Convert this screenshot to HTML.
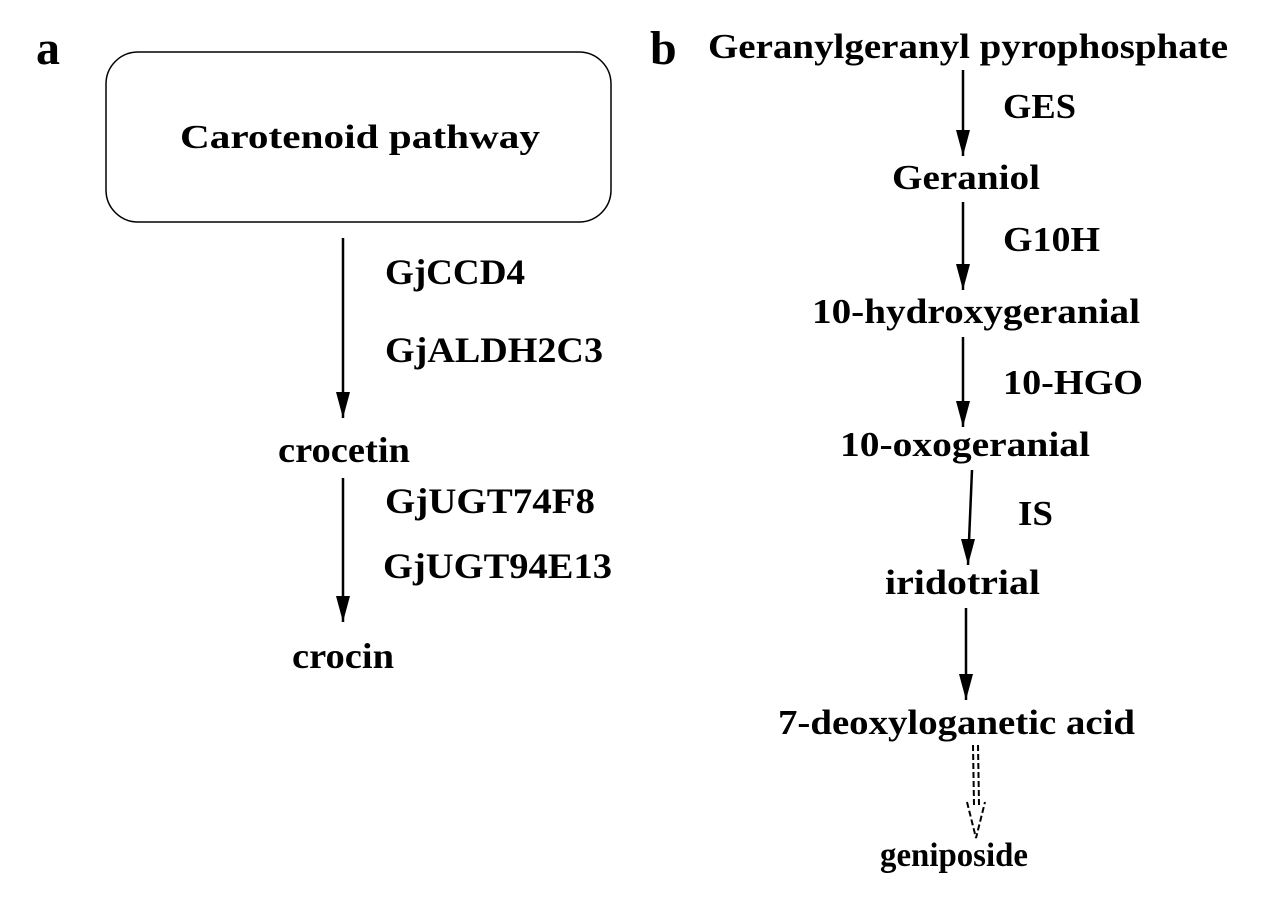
<!DOCTYPE html>
<html><head><meta charset="utf-8"><style>
html,body{margin:0;padding:0;background:#fff;}
svg text{font-family:"Liberation Serif",serif;font-weight:bold;fill:#000;}
</style></head><body>
<svg width="1285" height="900" viewBox="0 0 1285 900" xmlns="http://www.w3.org/2000/svg">
<text x="36" y="64" font-size="48">a</text>
<text x="650" y="64" font-size="48">b</text>
<rect x="106" y="52" width="505" height="170" rx="32" fill="none" stroke="#000" stroke-width="1.5"/>
<text x="180" y="148" font-size="34" textLength="360" lengthAdjust="spacingAndGlyphs">Carotenoid   pathway</text>
<line x1="343" y1="238" x2="343" y2="418" stroke="#000" stroke-width="2.5"/>
<path d="M336,392 L343,418 L350,392 Z" fill="#000"/>
<text x="385" y="284" font-size="36" textLength="140" lengthAdjust="spacingAndGlyphs">GjCCD4</text>
<text x="385" y="362" font-size="36" textLength="218" lengthAdjust="spacingAndGlyphs">GjALDH2C3</text>
<text x="278" y="462" font-size="36" textLength="132" lengthAdjust="spacingAndGlyphs">crocetin</text>
<line x1="343" y1="478" x2="343" y2="622" stroke="#000" stroke-width="2.5"/>
<path d="M336,596 L343,622 L350,596 Z" fill="#000"/>
<text x="385" y="513" font-size="36" textLength="210" lengthAdjust="spacingAndGlyphs">GjUGT74F8</text>
<text x="383" y="578" font-size="36" textLength="229" lengthAdjust="spacingAndGlyphs">GjUGT94E13</text>
<text x="292" y="668" font-size="36" textLength="102" lengthAdjust="spacingAndGlyphs">crocin</text>

<text x="708" y="58" font-size="35" textLength="520" lengthAdjust="spacingAndGlyphs">Geranylgeranyl pyrophosphate</text>
<line x1="963" y1="70" x2="963" y2="156" stroke="#000" stroke-width="2.5"/>
<path d="M956,130 L963,156 L970,130 Z" fill="#000"/>
<text x="1003" y="118" font-size="35" textLength="73" lengthAdjust="spacingAndGlyphs">GES</text>
<text x="892" y="189" font-size="35" textLength="148" lengthAdjust="spacingAndGlyphs">Geraniol</text>
<line x1="963" y1="202" x2="963" y2="290" stroke="#000" stroke-width="2.5"/>
<path d="M956,264 L963,290 L970,264 Z" fill="#000"/>
<text x="1003" y="251" font-size="35" textLength="97" lengthAdjust="spacingAndGlyphs">G10H</text>
<text x="812" y="323" font-size="35" textLength="328" lengthAdjust="spacingAndGlyphs">10-hydroxygeranial</text>
<line x1="963" y1="337" x2="963" y2="427" stroke="#000" stroke-width="2.5"/>
<path d="M956,401 L963,427 L970,401 Z" fill="#000"/>
<text x="1003" y="394" font-size="35" textLength="140" lengthAdjust="spacingAndGlyphs">10-HGO</text>
<text x="840" y="456" font-size="35" textLength="250" lengthAdjust="spacingAndGlyphs">10-oxogeranial</text>
<line x1="972" y1="470" x2="968" y2="565" stroke="#000" stroke-width="2.5"/>
<path d="M961,539 L968,565 L975,539 Z" fill="#000"/>
<text x="1018" y="525" font-size="35" textLength="35" lengthAdjust="spacingAndGlyphs">IS</text>
<text x="885" y="594" font-size="35" textLength="155" lengthAdjust="spacingAndGlyphs">iridotrial</text>
<line x1="966" y1="608" x2="966" y2="700" stroke="#000" stroke-width="2.5"/>
<path d="M959,674 L966,700 L973,674 Z" fill="#000"/>
<text x="778" y="734" font-size="35" textLength="357" lengthAdjust="spacingAndGlyphs">7-deoxyloganetic acid</text>
<g stroke="#000" stroke-width="2" stroke-dasharray="6,3" fill="none">
<line x1="973" y1="745" x2="974" y2="805"/>
<line x1="978" y1="745" x2="979" y2="805"/>
<path d="M967,802 L976,838 L985,802"/>
</g>
<text x="880" y="866" font-size="34" textLength="148" lengthAdjust="spacingAndGlyphs">geniposide</text>
</svg>
</body></html>
